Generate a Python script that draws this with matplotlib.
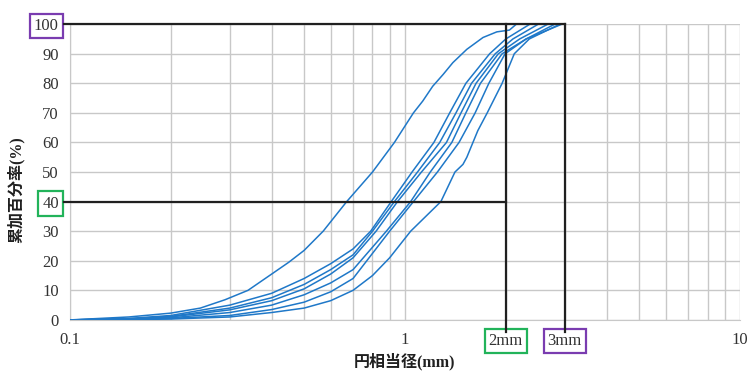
import matplotlib
matplotlib.use('Agg')
import matplotlib.pyplot as plt
from matplotlib import transforms

# 粒度分布データ (円相当径 mm, 累加百分率 %)
x_a = [0.10, 0.15, 0.20, 0.245, 0.29, 0.34, 0.40, 0.45, 0.50, 0.57, 0.67, 0.80, 0.93, 1.06, 1.13, 1.21, 1.30, 1.39, 1.53, 1.71, 1.88, 2.05, 2.15]
y_a = [0, 1.0, 2.3, 4.0, 6.8, 10, 15.5, 19.5, 23.5, 30, 40, 50, 60, 70, 74, 79, 83, 87, 91.5, 95.5, 97.4, 98, 100]

x_b = [0.10, 0.15, 0.20, 0.30, 0.40, 0.50, 0.60, 0.70, 0.79, 0.91, 1.05, 1.22, 1.36, 1.52, 1.79, 2.00, 2.36]
y_b = [0, 0.5, 1.5, 5.0, 9.0, 14, 19, 24, 30, 40, 50, 60, 70, 80, 90, 95, 100]

x_c = [0.10, 0.15, 0.20, 0.30, 0.40, 0.50, 0.60, 0.70, 0.80, 0.93, 1.09, 1.27, 1.42, 1.58, 1.86, 2.10, 2.50]
y_c = [0, 0.4, 1.2, 4.0, 7.5, 12, 17, 22, 30, 40, 50, 60, 70, 80, 90, 95, 100]

x_d = [0.10, 0.15, 0.20, 0.30, 0.40, 0.50, 0.60, 0.70, 0.82, 0.95, 1.12, 1.33, 1.47, 1.63, 1.90, 2.20, 2.67]
y_d = [0, 0.3, 1.0, 3.4, 6.5, 10.5, 15.5, 21, 30, 40, 50, 60, 70, 80, 90, 95, 100]

x_e = [0.10, 0.15, 0.20, 0.30, 0.40, 0.50, 0.60, 0.70, 0.88, 1.04, 1.19, 1.38, 1.52, 1.68, 1.95, 2.30, 2.80]
y_e = [0, 0.2, 0.7, 2.5, 5.0, 8.5, 12.5, 17, 30, 40, 50, 60, 70, 80, 90, 95, 100]

x_f = [0.10, 0.15, 0.20, 0.30, 0.40, 0.50, 0.60, 0.70, 0.90, 1.06, 1.25, 1.45, 1.62, 1.78, 1.99, 2.30, 2.94]
y_f = [0, 0.15, 0.5, 1.5, 3.5, 6.0, 9.5, 14, 30, 40, 50, 60, 70, 80, 90, 95, 100]

x_g = [0.10, 0.15, 0.20, 0.30, 0.40, 0.50, 0.60, 0.70, 0.80, 0.90, 1.04, 1.28, 1.41, 1.49, 1.53, 1.65, 1.76, 1.95, 2.12, 2.35, 2.90]
y_g = [0, 0.1, 0.3, 1.0, 2.5, 4.0, 6.5, 10, 15, 21, 30, 40, 50, 52.6, 55, 64, 70, 80, 90, 95, 100]

y_ticks = [0, 10, 20, 30, 40, 50, 60, 70, 80, 90, 100]
x_ticks = [0.1, 1, 10]
x_ticklabels = ['0.1', '1', '10']

serif = ['Liberation Serif', 'Noto Sans CJK JP']
line_col = '#1f78c8'
grid_col = '#c8c8c8'
text_col = '#333333'
green = '#22b35a'
purple = '#7a3cb0'

fig = plt.figure(figsize=(7.52, 3.72), dpi=100)
ax = fig.add_axes([0.093, 0.140, 0.891, 0.795])

curves = [(x_a, y_a), (x_b, y_b), (x_c, y_c), (x_d, y_d), (x_e, y_e), (x_f, y_f), (x_g, y_g)]
for xs, ys in curves:
    ax.plot(xs, ys, color=line_col, lw=1.1, zorder=3)

ax.set_xscale('log')
ax.set_xlim(0.1, 10)
ax.set_ylim(0, 100)
ax.set_xticks(x_ticks, x_ticklabels)
ax.set_yticks(y_ticks)
ax.minorticks_on()
ax.yaxis.set_minor_locator(matplotlib.ticker.NullLocator())
ax.grid(True, which='both', axis='x', color=grid_col, lw=1.0)
ax.grid(True, which='major', axis='y', color=grid_col, lw=1.0)
ax.tick_params(which='both', length=0)
ax.tick_params(axis='y', pad=8)
ax.tick_params(axis='x', pad=9)
for lab in ax.get_xticklabels() + ax.get_yticklabels():
    lab.set_fontfamily(serif)
    lab.set_fontsize(12)
    lab.set_color(text_col)

for s in ['top', 'right']:
    ax.spines[s].set_visible(False)
for s in ['left', 'bottom']:
    ax.spines[s].set_color(grid_col)

# 枠付きラベル
for lab in ax.get_yticklabels():
    if lab.get_text() == '100':
        lab.set_bbox(dict(boxstyle='square,pad=0.25', fc='white', ec=purple, lw=1.6))
    if lab.get_text() == '40':
        lab.set_bbox(dict(boxstyle='square,pad=0.25', fc='white', ec=green, lw=1.6))

# 黒い補助線
ax.plot([0.0959, 3], [100, 100], color='#202020', lw=1.6, clip_on=False, zorder=4)
ax.plot([0.0962, 2], [40, 40], color='#202020', lw=1.6, clip_on=False, zorder=4)
ax.plot([2, 2], [100, -4], color='#202020', lw=1.6, clip_on=False, zorder=4)
ax.plot([3, 3], [100, -4], color='#202020', lw=1.6, clip_on=False, zorder=4)

trans = transforms.blended_transform_factory(ax.transData, ax.transAxes)
ax.text(2, -0.071, '2mm', transform=trans, ha='center', va='center', fontsize=12,
        family=serif, color=text_col,
        bbox=dict(boxstyle='square,pad=0.25', fc='white', ec=green, lw=1.6))
ax.text(3, -0.071, '3mm', transform=trans, ha='center', va='center', fontsize=12,
        family=serif, color=text_col,
        bbox=dict(boxstyle='square,pad=0.25', fc='white', ec=purple, lw=1.6))

ax.set_xlabel('円相当径(mm)', family=serif, fontsize=11.5, color='#202020', fontweight='bold')
ax.xaxis.set_label_coords(0.5, -0.11)
ax.set_ylabel('累加百分率(%)', family=serif, fontsize=11.5, color='#202020', fontweight='bold')
ax.yaxis.set_label_coords(-0.068, 0.44)

fig.savefig('out.png', dpi=100)
